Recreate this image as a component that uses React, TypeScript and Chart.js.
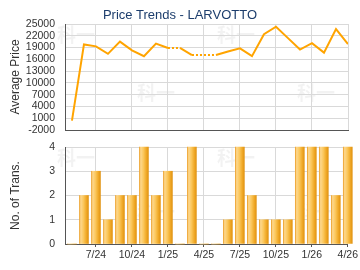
import React, { useEffect, useRef } from "react";
import { Chart, registerables } from "chart.js";

Chart.register(...registerables);

const months = ["5/24","6/24","7/24","8/24","9/24","10/24","11/24","12/24","1/25","2/25","3/25","4/25","5/25","6/25","7/25","8/25","9/25","10/25","11/25","12/25","1/26","2/26","3/26","4/26"];
const prices: (number | null)[] = [400, 19800, 19300, 17400, 20500, 18300, 16800, 20000, 18900, null, 17100, null, null, 18000, 18800, 16800, 22400, 24300, 21400, 18500, 20100, 17700, 23700, 19900];
const counts = [0, 2, 3, 1, 2, 2, 4, 2, 3, 0, 4, 0, 0, 1, 4, 2, 1, 1, 1, 4, 4, 4, 2, 4];
const xTickMonths = ["7/24","10/24","1/25","4/25","7/25","10/25","1/26","4/26"];
const title = "Price Trends - LARVOTTO";
const priceAxisTitle = "Average Price";
const countAxisTitle = "No. of Trans.";
const watermark = "科一";

const FONT = "'Liberation Sans', Arial, sans-serif";
const GRID = "#d9d9d9";
const AXIS = "#555555";
const TEXT = "#333333";

// carry forward missing months, drawn dotted
const displayPrices: number[] = [];
prices.forEach((p, i) => {
  displayPrices.push(p == null ? displayPrices[i - 1] : p);
});

const xScaleBase = (showLabels: boolean) => ({
  type: "linear" as const,
  min: -0.58,
  max: 23,
  offset: false,
  afterBuildTicks: (scale: any) => {
    scale.ticks = xTickMonths.map((m) => ({ value: months.indexOf(m) }));
  },
  afterFit: (scale: any) => {
    scale.height = showLabels ? 26 : 5;
  },
  grid: {
    color: GRID,
    offset: false,
    drawTicks: showLabels,
    tickLength: 3,
    tickColor: AXIS,
  },
  border: { color: AXIS, width: 1 },
  ticks: {
    display: showLabels,
    padding: 2,
    maxRotation: 0,
    autoSkip: false,
    color: TEXT,
    font: { family: FONT, size: 10.5 },
    callback: (v: any) => months[v as number] ?? "",
  },
});

const yScaleBase = (titleText: string, stepSize: number) => ({
  afterFit: (scale: any) => {
    scale.width = 65;
    scale.paddingTop = 0;
    scale.paddingBottom = 0;
  },
  grid: { color: GRID, drawTicks: false },
  border: { color: AXIS, width: 1 },
  title: {
    display: true,
    text: titleText,
    color: TEXT,
    font: { family: FONT, size: 12 },
    padding: { top: 8, bottom: 0 },
  },
  ticks: {
    padding: 10,
    stepSize,
    autoSkip: false,
    color: TEXT,
    font: { family: FONT, size: 10.5 },
    callback: (v: any) => String(v),
  },
});

const watermarkPlugin = (spots: [number, number][]) => ({
  id: "wm",
  beforeDraw(chart: any) {
    const ctx = chart.ctx;
    ctx.save();
    ctx.fillStyle = "rgba(0,0,0,0.05)";
    ctx.font = "bold 19px 'Noto Sans CJK SC'";
    ctx.textAlign = "center";
    ctx.textBaseline = "middle";
    spots.forEach(([x, y]) => ctx.fillText(watermark, x, y));
    ctx.restore();
  },
});

function PriceChart() {
  const ref = useRef<HTMLCanvasElement>(null);
  useEffect(() => {
    const chart = new Chart(ref.current!, {
      type: "line",
      data: {
        datasets: [
          {
            data: displayPrices.map((v, i) => ({ x: i, y: v })),
            borderColor: "#ffa400",
            borderWidth: 2,
            pointRadius: 0,
            fill: false,
            tension: 0,
            segment: {
              borderDash: (c: any) => (prices[c.p1DataIndex] == null ? [2, 2] : undefined),
            },
          },
        ],
      },
      options: {
        responsive: false,
        animation: false,
        layout: { padding: { left: 0, right: 12, top: 24, bottom: 0 } },
        plugins: { legend: { display: false }, tooltip: { enabled: false }, title: { display: false } },
        scales: {
          x: xScaleBase(false) as any,
          y: { ...yScaleBase(priceAxisTitle, 3000), min: -2000, max: 25000 } as any,
        },
      },
      plugins: [watermarkPlugin([[76, 35], [156, 93], [236, 35], [316, 93]])],
    });
    return () => chart.destroy();
  }, []);
  return <canvas ref={ref} width={360} height={135} style={{ display: "block" }} />;
}

function CountChart() {
  const ref = useRef<HTMLCanvasElement>(null);
  useEffect(() => {
    const chart = new Chart(ref.current!, {
      type: "bar",
      data: {
        datasets: [
          {
            data: counts.map((v, i) => ({ x: i, y: v })),
            barThickness: 9,
            borderWidth: 0,
            clip: false as any,
            backgroundColor: (c: any) => {
              const ch = c.chart;
              const xs = ch.scales && ch.scales.x;
              if (!xs || c.type !== "data" || typeof c.dataIndex !== "number") return "#f7bb45";
              const px = xs.getPixelForValue(c.dataIndex);
              if (!isFinite(px)) return "#f7bb45";
              const g = ch.ctx.createLinearGradient(px - 4.5, 0, px + 4.5, 0);
              g.addColorStop(0, "#eea532");
              g.addColorStop(0.15, "#fdd88e");
              g.addColorStop(0.45, "#fbc75c");
              g.addColorStop(0.75, "#f1ab2a");
              g.addColorStop(1, "#e19312");
              return g;
            },
          },
        ],
      },
      options: {
        responsive: false,
        animation: false,
        layout: { padding: { left: 0, right: 12, top: 12, bottom: 0 } },
        plugins: { legend: { display: false }, tooltip: { enabled: false }, title: { display: false } },
        scales: {
          x: xScaleBase(true) as any,
          y: { ...yScaleBase(countAxisTitle, 1), min: 0, max: 4 } as any,
        },
      },
      plugins: [watermarkPlugin([[76, 23], [156, 77], [236, 23], [316, 77]])],
    });
    return () => chart.destroy();
  }, []);
  return <canvas ref={ref} width={360} height={135} style={{ display: "block" }} />;
}

export default function App() {
  return (
    <div style={{ position: "absolute", left: 0, top: 0, width: 360, height: 270, background: "#fff" }}>
      <div
        style={{
          position: "absolute",
          left: 0,
          top: 0,
          width: 360,
          height: 30,
          lineHeight: "30px",
          textAlign: "center",
          fontFamily: FONT,
          fontSize: 13,
          color: "#1c3d6c",
          zIndex: 2,
        }}
      >
        {title}
      </div>
      <PriceChart />
      <CountChart />
    </div>
  );
}
